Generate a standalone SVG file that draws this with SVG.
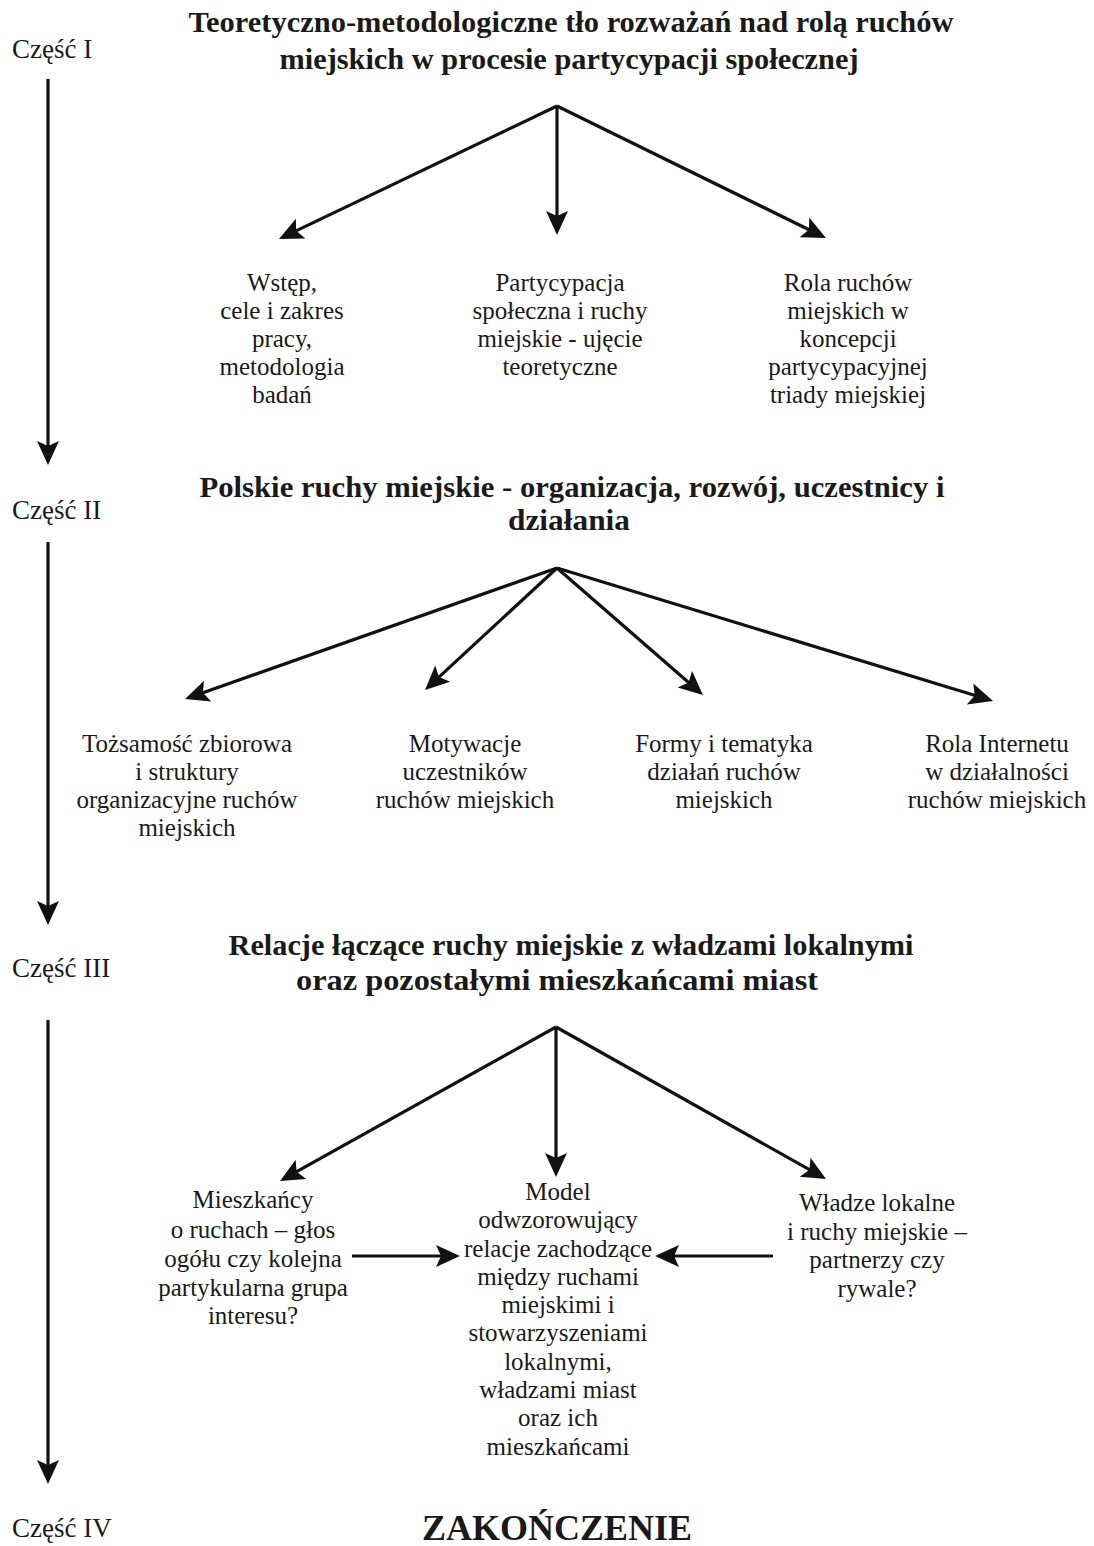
<svg xmlns="http://www.w3.org/2000/svg" width="1094" height="1546" viewBox="0 0 1094 1546">
<style>
text{font-family:"Liberation Serif","Times New Roman",serif;fill:#1a1a1a;text-anchor:middle}
.t{font-size:29px;font-weight:bold}
.n{font-size:25px}
.p{font-size:27px;text-anchor:start}
.z{font-size:36px;font-weight:bold}
.c line{stroke:#111;stroke-width:3.2;marker-end:url(#ah)}
</style>
<defs>
<marker id="ah" markerUnits="userSpaceOnUse" markerWidth="30" markerHeight="30" viewBox="-2 -13 30 26" refX="8" refY="0" orient="auto">
<path d="M0,-11 L24,0 L0,11 L5,0 z" fill="#111"/>
</marker>
</defs>
<rect width="1094" height="1546" fill="#fff"/>
<g id="part-labels">
<text class="p" x="12" y="58">Część I</text>
<text class="p" x="12" y="519">Część II</text>
<text class="p" x="12" y="977">Część III</text>
<text class="p" x="12" y="1537">Część IV</text>
</g>
<g id="title1">
<text class="t" x="571" y="32" textLength="765" lengthAdjust="spacingAndGlyphs">Teoretyczno-metodologiczne tło rozważań nad rolą ruchów</text>
<text class="t" x="569" y="69" textLength="579" lengthAdjust="spacingAndGlyphs">miejskich w procesie partycypacji społecznej</text>
</g>
<g id="n1a">
<text class="n" x="282" y="291">Wstęp,</text>
<text class="n" x="282" y="319">cele i zakres</text>
<text class="n" x="282" y="347">pracy,</text>
<text class="n" x="282" y="375">metodologia</text>
<text class="n" x="282" y="403">badań</text>
</g>
<g id="n1b">
<text class="n" x="560" y="291">Partycypacja</text>
<text class="n" x="560" y="319">społeczna i ruchy</text>
<text class="n" x="560" y="347">miejskie - ujęcie</text>
<text class="n" x="560" y="375">teoretyczne</text>
</g>
<g id="n1c">
<text class="n" x="848" y="291">Rola ruchów</text>
<text class="n" x="848" y="319">miejskich w</text>
<text class="n" x="848" y="347">koncepcji</text>
<text class="n" x="848" y="375">partycypacyjnej</text>
<text class="n" x="848" y="403">triady miejskiej</text>
</g>
<g id="title2">
<text class="t" x="572" y="497" textLength="745" lengthAdjust="spacingAndGlyphs">Polskie ruchy miejskie - organizacja, rozwój, uczestnicy i</text>
<text class="t" x="569" y="530" textLength="122" lengthAdjust="spacingAndGlyphs">działania</text>
</g>
<g id="n2a">
<text class="n" x="187" y="752">Tożsamość zbiorowa</text>
<text class="n" x="187" y="780">i struktury</text>
<text class="n" x="187" y="808">organizacyjne ruchów</text>
<text class="n" x="187" y="836">miejskich</text>
</g>
<g id="n2b">
<text class="n" x="465" y="752">Motywacje</text>
<text class="n" x="465" y="780">uczestników</text>
<text class="n" x="465" y="808">ruchów miejskich</text>
</g>
<g id="n2c">
<text class="n" x="724" y="752">Formy i tematyka</text>
<text class="n" x="724" y="780">działań ruchów</text>
<text class="n" x="724" y="808">miejskich</text>
</g>
<g id="n2d">
<text class="n" x="997" y="752">Rola Internetu</text>
<text class="n" x="997" y="780">w działalności</text>
<text class="n" x="997" y="808">ruchów miejskich</text>
</g>
<g id="title3">
<text class="t" x="571" y="955" textLength="685" lengthAdjust="spacingAndGlyphs">Relacje łączące ruchy miejskie z władzami lokalnymi</text>
<text class="t" x="557" y="990" textLength="522" lengthAdjust="spacingAndGlyphs">oraz pozostałymi mieszkańcami miast</text>
</g>
<g id="n3a">
<text class="n" x="253" y="1208">Mieszkańcy</text>
<text class="n" x="253" y="1238">o ruchach – głos</text>
<text class="n" x="253" y="1267">ogółu czy kolejna</text>
<text class="n" x="253" y="1296">partykularna grupa</text>
<text class="n" x="253" y="1324">interesu?</text>
</g>
<g id="n3b">
<text class="n" x="558" y="1200">Model</text>
<text class="n" x="558" y="1228">odwzorowujący</text>
<text class="n" x="558" y="1257">relacje zachodzące</text>
<text class="n" x="558" y="1285">między ruchami</text>
<text class="n" x="558" y="1313">miejskimi i</text>
<text class="n" x="558" y="1341">stowarzyszeniami</text>
<text class="n" x="558" y="1370">lokalnymi,</text>
<text class="n" x="558" y="1398">władzami miast</text>
<text class="n" x="558" y="1426">oraz ich</text>
<text class="n" x="558" y="1455">mieszkańcami</text>
</g>
<g id="n3c">
<text class="n" x="877" y="1211">Władze lokalne</text>
<text class="n" x="877" y="1240">i ruchy miejskie –</text>
<text class="n" x="877" y="1268">partnerzy czy</text>
<text class="n" x="877" y="1297">rywale?</text>
</g>
<g id="end">
<text class="z" x="557" y="1540">ZAKOŃCZENIE</text>
</g>
<g id="connectors" class="c">
<line x1="48" y1="79" x2="48" y2="449"/>
<line x1="48" y1="542" x2="48" y2="909"/>
<line x1="48" y1="1020" x2="48" y2="1468"/>
<line x1="557" y1="106" x2="293.4" y2="232.1"/>
<line x1="557" y1="106" x2="557" y2="219"/>
<line x1="557" y1="106" x2="811.6" y2="231"/>
<line x1="557" y1="568" x2="200.1" y2="693.7"/>
<line x1="557" y1="568" x2="436.8" y2="679.1"/>
<line x1="557" y1="568" x2="690.9" y2="684.5"/>
<line x1="557" y1="568" x2="977.7" y2="696.3"/>
<line x1="556" y1="1027" x2="294" y2="1173.2"/>
<line x1="556" y1="1027" x2="556" y2="1161"/>
<line x1="556" y1="1027" x2="812.1" y2="1171.2"/>
<line x1="352" y1="1256" x2="444" y2="1256"/>
<line x1="773" y1="1256" x2="671" y2="1256"/>
</g>
</svg>
